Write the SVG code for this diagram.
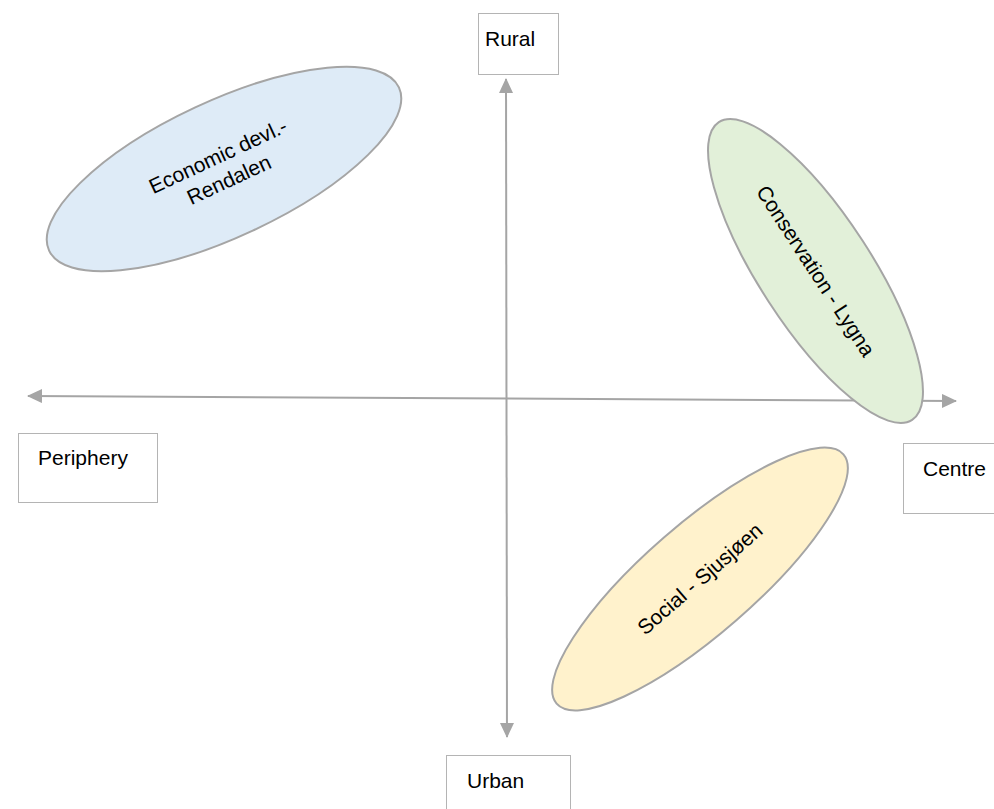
<svg xmlns="http://www.w3.org/2000/svg" width="994" height="809" viewBox="0 0 994 809">
<style>
.box{fill:#ffffff;stroke:#b4b4b4;stroke-width:1}
.lbl{font-family:"Liberation Sans",Arial,sans-serif;font-size:21px;fill:#000000}
.ell{stroke:#a5a5a5;stroke-width:2}
.axis{stroke:#a5a5a5;stroke-width:2;fill:none}
</style>
<defs>
<marker id="ah" viewBox="0 0 15 14" refX="14" refY="7" markerWidth="15" markerHeight="14" markerUnits="userSpaceOnUse" orient="auto-start-reverse">
<path d="M0,0 L15,7 L0,14 Z" fill="#a5a5a5"/>
</marker>
</defs>
<g id="connectors">
<line class="axis" x1="506" y1="79" x2="507" y2="737" marker-start="url(#ah)" marker-end="url(#ah)"/>
<line class="axis" x1="28" y1="396" x2="956" y2="401" marker-start="url(#ah)" marker-end="url(#ah)"/>
</g>
<g id="rural">
<rect class="box" x="478.5" y="13.5" width="80" height="61"/>
<text class="lbl" x="485" y="46">Rural</text>
</g>
<g id="urban">
<rect class="box" x="446.5" y="755.5" width="124" height="60"/>
<text class="lbl" x="467" y="788">Urban</text>
</g>
<g id="periphery">
<rect class="box" x="18.5" y="433.5" width="139" height="69"/>
<text class="lbl" x="38" y="465">Periphery</text>
</g>
<g id="centre">
<rect class="box" x="903.5" y="443.5" width="100" height="70"/>
<text class="lbl" x="923" y="476">Centre</text>
</g>
<g id="economic" transform="translate(224,169) rotate(-25)">
<ellipse class="ell" cx="0" cy="0" rx="193" ry="68" fill="#deebf7"/>
<text class="lbl" x="0" y="-7" text-anchor="middle">Economic devl.-</text>
<text class="lbl" x="0" y="19" text-anchor="middle">Rendalen</text>
</g>
<g id="conservation" transform="translate(815.5,271) rotate(57)">
<ellipse class="ell" cx="0" cy="0" rx="177.5" ry="56" fill="#e2f0d9"/>
<text class="lbl" x="0" y="7" text-anchor="middle">Conservation - Lygna</text>
</g>
<g id="social" transform="translate(700,579) rotate(-41)">
<ellipse class="ell" cx="0" cy="0" rx="190" ry="55" fill="#fff2cc"/>
<text class="lbl" x="0" y="7" text-anchor="middle">Social - Sjusjøen</text>
</g>
</svg>
